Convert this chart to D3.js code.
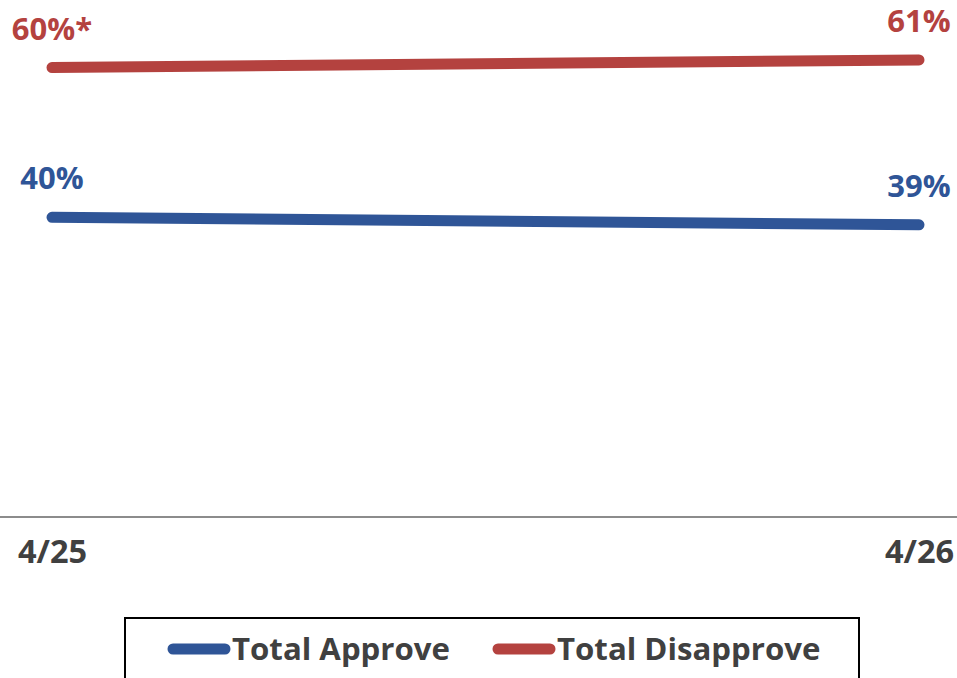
<!DOCTYPE html>
<html><head><meta charset="utf-8">
<script src="https://cdn.jsdelivr.net/npm/d3@7"></script>
<style>body{margin:0;background:#fff;}svg{display:block;font-family:"Open Sans",sans-serif;}</style>
</head><body>
<script>
const dates = ["4/25", "4/26"];
const approve = [40, 39];
const disapprove = [60, 61];
const approveLabels = ["40%", "39%"];
const disapproveLabels = ["60%*", "61%"];
const seriesNames = ["Total Approve", "Total Disapprove"];

const W = 957, H = 678;
const colors = {approve: "#2F5597", disapprove: "#B4423F"};
const svg = d3.select("body").append("svg").attr("width", W).attr("height", H);

const x = d3.scalePoint().domain(dates).range([52, 919]);
const y = d3.scaleLinear().domain([0, 60]).range([517, 67.5]);

// axis
const xAxis = d3.axisBottom(x).tickSize(0).tickPadding(23);
const ax = svg.append("g").attr("transform", `translate(0,${y(0)})`).call(xAxis);
ax.select(".domain").remove();
svg.append("line").attr("x1", 0).attr("x2", W).attr("y1", y(0)).attr("y2", y(0))
  .attr("stroke", "#8c8c8c").attr("stroke-width", 2);
ax.selectAll("text").attr("font-size", 32.5).attr("font-weight", 700).attr("fill", "#404040")
  .attr("font-family", "'Open Sans', sans-serif");

const series = [
  {name: seriesNames[0], vals: approve, labels: approveLabels, color: colors.approve},
  {name: seriesNames[1], vals: disapprove, labels: disapproveLabels, color: colors.disapprove}
];
const line = d3.line().x((d, i) => x(dates[i])).y(d => y(d));
series.forEach(s => {
  svg.append("path").attr("d", line(s.vals)).attr("fill", "none")
    .attr("stroke", s.color).attr("stroke-width", 11).attr("stroke-linecap", "round");
  svg.selectAll(null).data(s.vals).enter().append("text")
    .attr("x", (d, i) => x(dates[i])).attr("y", d => y(d) - 28)
    .attr("text-anchor", "middle").attr("font-size", 31).attr("font-weight", 700)
    .attr("fill", s.color).text((d, i) => s.labels[i]);
});

// legend
svg.append("rect").attr("x", 125).attr("y", 618).attr("width", 734).attr("height", 80)
  .attr("fill", "none").attr("stroke", "#000").attr("stroke-width", 2);
const legX = [168, 493];
series.forEach((s, i) => {
  svg.append("line").attr("x1", legX[i] + 5).attr("x2", legX[i] + 57).attr("y1", 649).attr("y2", 649)
    .attr("stroke", s.color).attr("stroke-width", 11).attr("stroke-linecap", "round");
  svg.append("text").attr("x", legX[i] + 64).attr("y", 660).attr("font-size", 31.2)
    .attr("font-weight", 700).attr("fill", "#404040").text(s.name);
});
</script>
</body></html>
